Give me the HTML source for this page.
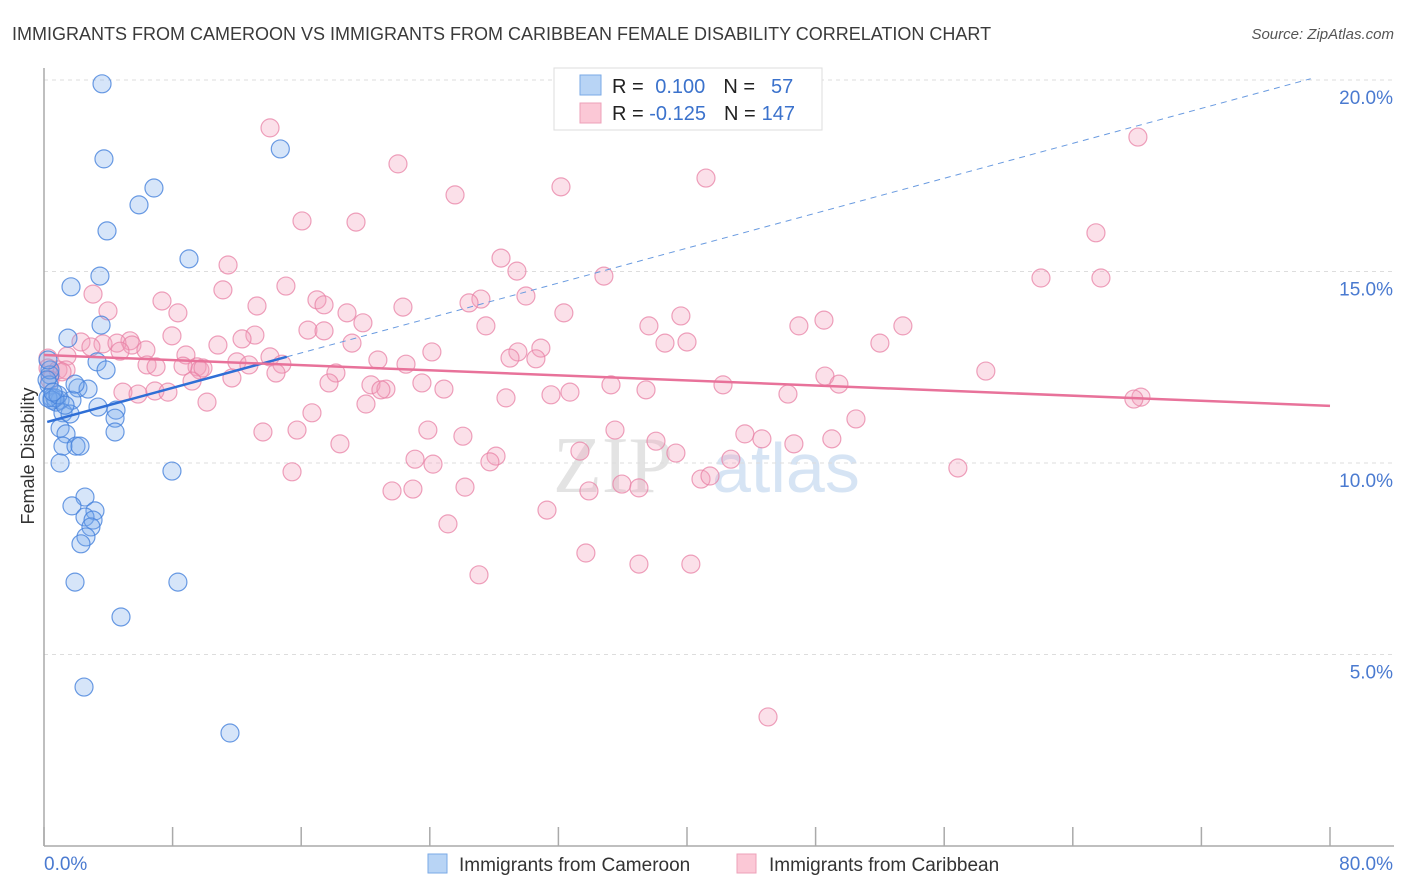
<!DOCTYPE html>
<html><head><meta charset="utf-8"><style>
body{margin:0;background:#fff;font-family:"Liberation Sans",sans-serif;}
#wrap{position:relative;width:1406px;height:892px;overflow:hidden;}
</style></head><body>
<div id="wrap">
<svg id="chart" width="1406" height="892">
<text x="12" y="40" font-size="18" fill="#3a3a3a">IMMIGRANTS FROM CAMEROON VS IMMIGRANTS FROM CARIBBEAN FEMALE DISABILITY CORRELATION CHART</text>
<text x="1394" y="39" font-size="15" fill="#555" font-style="italic" text-anchor="end">Source: ZipAtlas.com</text>
<text transform="translate(34,456) rotate(-90)" font-size="18" fill="#333" text-anchor="middle">Female Disability</text>
<g><text x="553" y="492" font-size="80" fill="#d8d8d8" font-family="Liberation Serif,serif" opacity="0.7">ZIP</text><text x="712" y="492" font-size="70" fill="#bcd3ee" opacity="0.6">atlas</text></g>
<g id="grid"></g><g id="axes"></g><g id="pts"></g><g id="lines"></g>
<g>
<rect x="554" y="68" width="268" height="62" fill="#fff" stroke="#ddd"/>
<rect x="580" y="75" width="21" height="20" fill="#b8d4f5" stroke="#7aaae6"/>
<rect x="580" y="103" width="21" height="20" fill="#fbc8d6" stroke="#eea0b8"/>
<text x="612" y="93" font-size="20" fill="#222">R = <tspan fill="#3b72cc" dx="6">0.100</tspan><tspan dx="18" fill="#222">N =</tspan><tspan fill="#3b72cc" dx="16">57</tspan></text>
<text x="612" y="120" font-size="20" fill="#222">R = <tspan fill="#3b72cc">-0.125</tspan><tspan dx="18" fill="#222">N =</tspan><tspan fill="#3b72cc" dx="6">147</tspan></text>
</g>
<g>
<rect x="428" y="854" width="19" height="19" fill="#b8d4f5" stroke="#7aaae6"/>
<text x="459" y="871" font-size="19" fill="#333">Immigrants from Cameroon</text>
<rect x="737" y="854" width="19" height="19" fill="#fbc8d6" stroke="#eea0b8"/>
<text x="769" y="871" font-size="19" fill="#333">Immigrants from Caribbean</text>
</g>
</svg>
</div>
<script>
const blueX=[3.61,14.7,3.73,6.84,5.91,3.92,9.02,3.48,1.68,3.55,1.49,3.30,3.86,0.37,0.31,2.11,2.74,0.5,0.75,1.0,1.74,3.36,4.48,1.18,1.62,4.42,1.0,1.37,4.42,1.18,1.99,2.24,1.0,7.96,2.55,1.74,3.17,2.55,3.05,2.92,2.61,2.30,1.93,8.33,4.79,2.49,11.57,0.37,0.68,0.25,0.5,0.87,1.31,1.93,0.25,0.19,0.56];
const blueY=[19.9,18.2,17.94,17.18,16.74,16.06,15.33,14.88,14.60,13.6,13.26,12.64,12.43,12.30,12.04,11.96,11.93,11.70,11.59,11.64,11.64,11.46,11.38,11.31,11.28,11.17,10.91,10.76,10.81,10.44,10.44,10.44,10.0,9.79,9.11,8.88,8.75,8.59,8.51,8.33,8.07,7.89,6.89,6.89,5.98,4.15,2.95,12.43,11.70,11.70,11.64,11.78,11.51,12.06,12.69,12.17,11.85];
const pinkX=[14.06,68.05,22.02,25.57,32.16,41.18,16.05,19.41,65.44,28.43,11.45,29.42,34.83,62.02,65.75,15.05,11.13,3.05,7.34,27.18,26.44,16.98,29.98,17.42,13.25,22.33,8.33,3.98,32.34,18.85,39.62,48.52,19.84,37.63,46.96,53.43,16.42,17.42,27.49,7.96,13.12,12.32,5.35,2.30,3.67,4.54,5.47,19.16,38.63,40.0,52.0,10.82,6.34,2.92,4.73,24.13,30.91,29.48,8.83,1.43,0.25,12.0,6.41,20.77,22.52,28.99,30.60,14.06,12.75,14.80,6.97,9.52,9.70,9.89,8.65,0.25,0.87,1.37,1.12,0.37,18.16,14.43,11.69,9.21,58.59,48.58,49.45,4.91,5.85,6.90,7.71,17.73,20.34,21.27,20.96,23.51,24.88,35.27,37.45,42.24,28.74,31.54,32.72,46.28,10.14,20.03,68.24,67.80,16.67,50.51,13.62,15.74,23.88,35.52,43.60,44.66,26.06,18.41,38.07,46.65,49.01,39.31,33.34,23.08,24.20,28.12,27.74,42.73,15.43,56.85,21.65,22.95,26.19,33.90,35.95,37.01,40.87,41.43,31.29,25.13,33.71,37.01,40.24,27.06,45.04];
const pinkY=[18.75,18.51,17.81,17.00,17.21,17.44,16.32,16.29,16.01,15.35,15.17,15.01,14.88,14.83,14.83,14.62,14.52,14.41,14.23,14.28,14.18,14.26,14.36,14.13,14.10,14.07,13.92,13.97,13.92,13.92,13.84,13.73,13.66,13.58,13.58,13.58,13.47,13.45,13.58,13.32,13.34,13.24,13.19,13.16,13.11,13.13,13.08,13.13,13.13,13.16,13.13,13.08,12.95,13.03,12.92,12.90,13.0,12.90,12.82,12.79,12.74,12.64,12.56,12.69,12.58,12.74,12.72,12.77,12.56,12.58,12.51,12.51,12.43,12.48,12.53,12.48,12.43,12.43,12.38,12.17,12.35,12.35,12.22,12.14,12.40,12.27,12.06,11.85,11.80,11.88,11.85,12.09,12.04,11.93,11.91,12.09,11.93,12.04,11.91,12.04,11.70,11.78,11.85,11.80,11.59,11.54,11.72,11.67,11.31,11.15,10.81,10.86,10.86,10.86,10.76,10.63,10.70,10.50,10.57,10.50,10.63,10.26,10.31,10.10,9.97,10.18,10.03,10.10,9.77,9.87,9.27,9.32,9.37,9.27,9.45,9.35,9.58,9.66,8.77,8.41,7.65,7.36,7.36,7.08,3.37];
const yTicks=[5,10,15,20];
const yTickLabels=["5.0%","10.0%","15.0%","20.0%"];
const xTickVals=[0,8,16,24,32,40,48,56,64,72,80];
const xEndLabels=["0.0%","80.0%"];
const blueTrend=[11.05,0.114];
const pinkTrend=[12.82,-0.0166];

const NS="http://www.w3.org/2000/svg";
const X0=44,X1=1330,Y0=846,Y20=80;
const sx=v=>X0+(v/80)*(X1-X0);
const sy=v=>Y0-(v/20)*(Y0-Y20);
function mk(tag,attrs,parent){const e=document.createElementNS(NS,tag);for(const k in attrs)e.setAttribute(k,attrs[k]);parent.appendChild(e);return e;}
const grid=document.getElementById('grid'),axes=document.getElementById('axes'),pts=document.getElementById('pts'),lines=document.getElementById('lines');
yTicks.forEach((t,i)=>{
  const l=mk('line',{x1:X0,x2:1394,y1:sy(t),y2:sy(t),stroke:'#ddd','stroke-dasharray':'4,4'},grid);
  
  
  const tx=mk('text',{x:1393,y:sy(t)+24,'font-size':19,fill:'#4a7ad0','text-anchor':'end'},axes);
  tx.textContent=yTickLabels[i];
  
  
});
const ya=mk('line',{x1:X0,x2:X0,y1:68,y2:Y0,stroke:'#aaa','stroke-width':1.5},axes);


const xa=mk('line',{x1:X0,x2:1394,y1:Y0,y2:Y0,stroke:'#aaa','stroke-width':1.5},axes);


xTickVals.forEach(v=>{
  const t=mk('line',{x1:sx(v),x2:sx(v),y1:Y0-19,y2:Y0,stroke:'#aaa','stroke-width':1.5},axes);
  
  
});
const xl0=mk('text',{x:44,y:870,'font-size':19,fill:'#4a7ad0'},axes);xl0.textContent=xEndLabels[0];


const xl1=mk('text',{x:1393,y:870,'font-size':19,fill:'#4a7ad0','text-anchor':'end'},axes);xl1.textContent=xEndLabels[1];


pinkX.forEach((x,i)=>{
  const c=mk('circle',{cx:sx(x),cy:sy(pinkY[i]),r:9,fill:'rgba(244,160,188,0.32)',stroke:'rgba(232,130,165,0.75)','stroke-width':1.2},pts);
  
  
});
blueX.forEach((x,i)=>{
  const c=mk('circle',{cx:sx(x),cy:sy(blueY[i]),r:9,fill:'rgba(120,170,235,0.3)',stroke:'rgba(70,130,220,0.8)','stroke-width':1.2},pts);
  
  
});
const bf=v=>blueTrend[0]+blueTrend[1]*v, pf=v=>pinkTrend[0]+pinkTrend[1]*v;
const bd=mk('line',{x1:sx(15.1),y1:sy(bf(15.1)),x2:sx(78.8),y2:sy(bf(78.8)),stroke:'#6a9be0','stroke-width':1,'stroke-dasharray':'6,5'},lines);


const bl=mk('line',{x1:sx(0.2),y1:sy(bf(0.2)),x2:sx(15.1),y2:sy(bf(15.1)),stroke:'#2f6fd6','stroke-width':2.5},lines);


const pl=mk('line',{x1:sx(0),y1:sy(pf(0)),x2:sx(80),y2:sy(pf(80)),stroke:'#e8729a','stroke-width':2.5},lines);


</script>
</body></html>
